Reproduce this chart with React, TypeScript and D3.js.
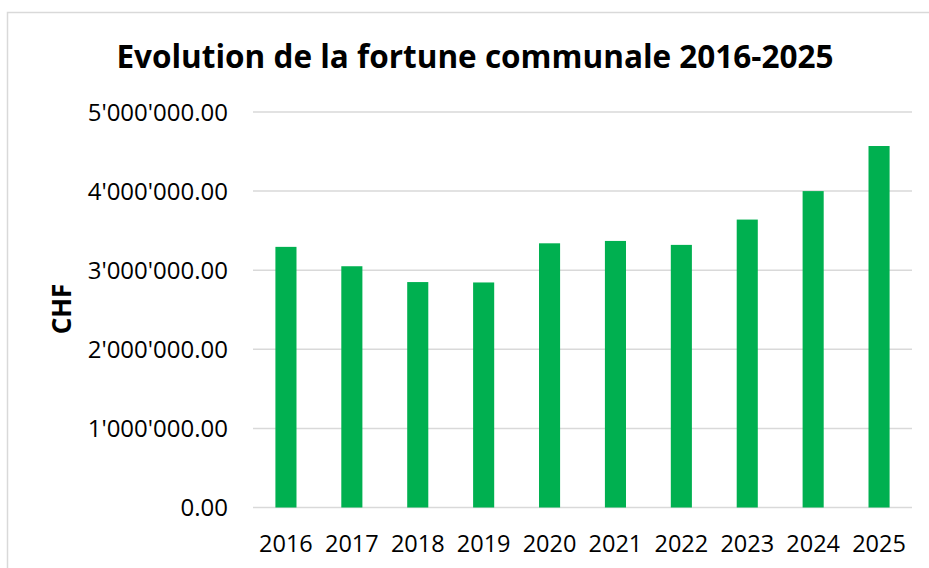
import React, { useEffect, useRef } from "react";
import * as d3 from "d3";

const years = ["2016", "2017", "2018", "2019", "2020", "2021", "2022", "2023", "2024", "2025"];
const fortune = [3295000, 3050000, 2850000, 2845000, 3340000, 3370000, 3320000, 3640000, 4000000, 4570000];
const yTicks = [0, 1000000, 2000000, 3000000, 4000000, 5000000];

const fmt = (v: number) => {
  const s = d3.format(",.2f")(v);
  return s.replace(/,/g, "'");
};

const App = () => {
  const svgRef = useRef<SVGSVGElement>(null);

  useEffect(() => {
    const width = 929;
    const height = 568;
    const svg = d3.select(svgRef.current);
    svg.selectAll("*").remove();

    const font = "'Open Sans', 'Noto Sans', sans-serif";

    // chart border
    svg
      .append("rect")
      .attr("x", 7.5)
      .attr("y", 12.5)
      .attr("width", 1000)
      .attr("height", 1000)
      .attr("fill", "white")
      .attr("stroke", "#d9d9d9")
      .attr("stroke-width", 1.5);

    const x = d3.scaleBand().domain(years).range([253, 912]).paddingInner(0.68).paddingOuter(0.34);
    const y = d3.scaleLinear().domain([0, 5000000]).range([507.5, 112]);

    // gridlines
    svg
      .append("g")
      .selectAll("line")
      .data(yTicks)
      .enter()
      .append("line")
      .attr("x1", 253)
      .attr("x2", 912)
      .attr("y1", (d) => y(d))
      .attr("y2", (d) => y(d))
      .attr("stroke", "#d9d9d9")
      .attr("stroke-width", 1.5);

    // y tick labels
    svg
      .append("g")
      .selectAll("text")
      .data(yTicks)
      .enter()
      .append("text")
      .attr("x", 228)
      .attr("y", (d) => y(d))
      .attr("dy", "0.36em")
      .attr("text-anchor", "end")
      .attr("font-family", font)
      .attr("font-size", 24)
      .attr("fill", "#000")
      .text((d) => fmt(d));

    // bars
    svg
      .append("g")
      .selectAll("rect")
      .data(fortune)
      .enter()
      .append("rect")
      .attr("x", (d, i) => x(years[i]) as number)
      .attr("y", (d) => y(d))
      .attr("width", x.bandwidth())
      .attr("height", (d) => y(0) - y(d))
      .attr("fill", "#00b050");

    // x labels
    svg
      .append("g")
      .selectAll("text")
      .data(years)
      .enter()
      .append("text")
      .attr("x", (d) => (x(d) as number) + x.bandwidth() / 2)
      .attr("y", 552)
      .attr("text-anchor", "middle")
      .attr("font-family", font)
      .attr("font-size", 23.5)
      .attr("fill", "#000")
      .text((d) => d);

    // y axis title
    svg
      .append("text")
      .attr("transform", "translate(71,309) rotate(-90)")
      .attr("text-anchor", "middle")
      .attr("font-family", font)
      .attr("font-weight", "bold")
      .attr("font-size", 26)
      .attr("fill", "#000")
      .text("CHF");

    // title
    svg
      .append("text")
      .attr("x", 475)
      .attr("y", 68)
      .attr("text-anchor", "middle")
      .attr("font-family", font)
      .attr("font-weight", "bold")
      .attr("font-size", 31.5)
      .attr("fill", "#000")
      .text("Evolution de la fortune communale 2016-2025");

    svg.attr("width", width).attr("height", height);
  }, []);

  return (
    <svg
      ref={svgRef}
      style={{ position: "absolute", left: 0, top: 0, display: "block", background: "white" }}
    ></svg>
  );
};

export default App;
